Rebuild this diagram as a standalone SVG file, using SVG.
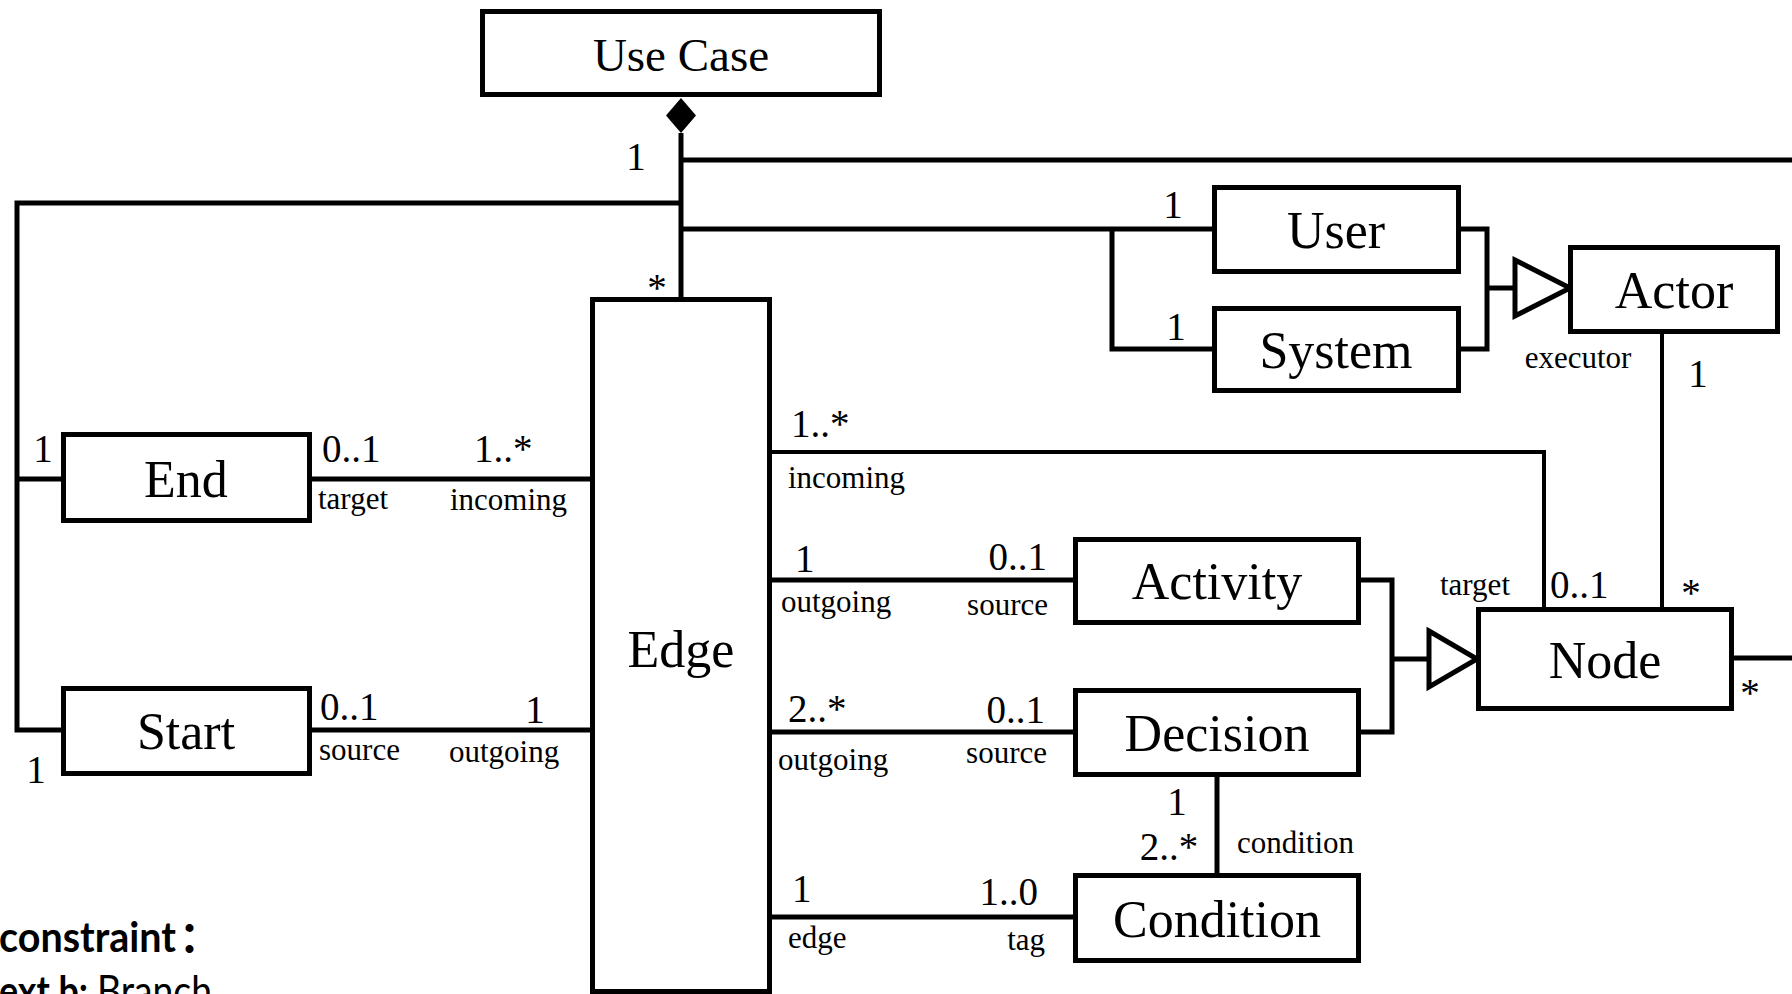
<svg xmlns="http://www.w3.org/2000/svg" width="1792" height="994" viewBox="0 0 1792 994">
  <style>
    .box { fill: #ffffff; stroke: #000000; stroke-width: 5; }
    .line { fill: none; stroke: #000000; stroke-width: 5; stroke-linejoin: miter; stroke-linecap: butt; }
    .thin { stroke-width: 4; }
    .gen { fill: #ffffff; stroke: #000000; stroke-width: 5; stroke-linejoin: miter; }
    .name { font-family: "Liberation Serif", "Times New Roman", serif; font-size: 52px; text-anchor: middle; fill: #000; }
    .mult { font-family: "Liberation Serif", "Times New Roman", serif; font-size: 39px; fill: #000; }
    .role { font-family: "Liberation Serif", "Times New Roman", serif; font-size: 31px; fill: #000; }
    .mid { text-anchor: middle; }
    .end { text-anchor: end; }
    .note { font-family: Lato, "Noto Sans", "Noto Sans CJK SC", sans-serif; font-size: 42px; fill: #000; }
  </style>

  <rect width="1792" height="994" fill="#ffffff"/>

  <!-- associations, compositions and generalizations -->
  <g id="connectors">
    <!-- composition: Use Case owns its parts -->
    <polygon points="681,98 696,115.5 681,133 666,115.5" fill="#000000"/>
    <polyline class="line" points="681,133 681,299"/>
    <polyline class="line" points="681,160 1792,160"/>
    <polyline class="line" points="681,203 17,203 17,730 63,730"/>
    <polyline class="line" points="17,479 63,479"/>
    <polyline class="line" points="681,229 1214,229"/>
    <polyline class="line" points="1112,229 1112,349 1214,349"/>

    <!-- User / System generalize to Actor -->
    <polyline class="line" points="1460,229 1487,229 1487,349 1460,349"/>
    <polyline class="line" points="1487,288 1515,288"/>
    <polygon class="gen" points="1515,260 1570,288 1515,316"/>

    <!-- Actor executes Node -->
    <polyline class="line thin" points="1662,333 1662,609"/>

    <!-- Edge associations -->
    <polyline class="line thin" points="771,452 1544,452 1544,609"/>
    <polyline class="line" points="771,580 1075,580"/>
    <polyline class="line" points="771,732 1075,732"/>
    <polyline class="line" points="771,917 1075,917"/>
    <polyline class="line" points="310,479 592,479"/>
    <polyline class="line" points="310,730 592,730"/>

    <!-- Decision has conditions -->
    <polyline class="line" points="1217,776 1217,875"/>

    <!-- Activity / Decision generalize to Node -->
    <polyline class="line" points="1359,580 1392,580 1392,732 1359,732"/>
    <polyline class="line" points="1392,659 1429,659"/>
    <polygon class="gen" points="1429,631 1477,659 1429,687"/>

    <!-- Node continues to the right -->
    <polyline class="line" points="1733,658 1792,658"/>
  </g>

  <!-- classes -->
  <g id="use-case">
    <rect class="box" x="482.5" y="11.5" width="397" height="83"/>
    <text class="name" x="681" y="71" style="font-size:47px">Use Case</text>
  </g>
  <g id="user">
    <rect class="box" x="1214.5" y="187.5" width="244" height="84"/>
    <text class="name" x="1336" y="248">User</text>
  </g>
  <g id="system">
    <rect class="box" x="1214.5" y="308.5" width="244" height="82"/>
    <text class="name" x="1336" y="368">System</text>
  </g>
  <g id="actor">
    <rect class="box" x="1570.5" y="247.5" width="207" height="84"/>
    <text class="name" x="1674" y="308">Actor</text>
  </g>
  <g id="edge">
    <rect class="box" x="592.5" y="299.5" width="177" height="692"/>
    <text class="name" x="681" y="667">Edge</text>
  </g>
  <g id="end">
    <rect class="box" x="63.5" y="434.5" width="246" height="86"/>
    <text class="name" x="186" y="497">End</text>
  </g>
  <g id="start">
    <rect class="box" x="63.5" y="688.5" width="246" height="85"/>
    <text class="name" x="186" y="749">Start</text>
  </g>
  <g id="activity">
    <rect class="box" x="1075.5" y="539.5" width="283" height="83"/>
    <text class="name" x="1217" y="599">Activity</text>
  </g>
  <g id="decision">
    <rect class="box" x="1075.5" y="690.5" width="283" height="84"/>
    <text class="name" x="1217" y="751">Decision</text>
  </g>
  <g id="condition">
    <rect class="box" x="1075.5" y="875.5" width="283" height="85"/>
    <text class="name" x="1217" y="937">Condition</text>
  </g>
  <g id="node">
    <rect class="box" x="1478.5" y="609.5" width="253" height="99"/>
    <text class="name" x="1605" y="678">Node</text>
  </g>

  <!-- multiplicities and role names -->
  <g id="labels">
    <text class="mult mid" x="636" y="170">1</text>
    <text class="mult mid" x="657" y="301">*</text>
    <text class="mult mid" x="1173" y="218">1</text>
    <text class="mult mid" x="1176" y="340">1</text>
    <text class="role mid" x="1578" y="368">executor</text>
    <text class="mult mid" x="1698" y="387">1</text>

    <text class="mult" x="791" y="437">1..*</text>
    <text class="role" x="788" y="488">incoming</text>
    <text class="mult" x="795" y="572">1</text>
    <text class="role" x="781" y="612">outgoing</text>
    <text class="mult end" x="1047" y="570">0..1</text>
    <text class="role end" x="1048" y="615">source</text>

    <text class="mult" x="788" y="722">2..*</text>
    <text class="role" x="778" y="770">outgoing</text>
    <text class="mult end" x="1045" y="723">0..1</text>
    <text class="role end" x="1047" y="763">source</text>

    <text class="mult mid" x="1177" y="815">1</text>
    <text class="mult mid" x="1169" y="860">2..*</text>
    <text class="role" x="1237" y="853">condition</text>

    <text class="mult" x="792" y="902">1</text>
    <text class="role" x="788" y="948">edge</text>
    <text class="mult end" x="1038" y="905">1..0</text>
    <text class="role end" x="1045" y="950">tag</text>

    <text class="role end" x="1510" y="595">target</text>
    <text class="mult" x="1550" y="598">0..1</text>
    <text class="mult mid" x="1691" y="606">*</text>
    <text class="mult mid" x="1750" y="706">*</text>

    <text class="mult mid" x="43" y="462">1</text>
    <text class="mult" x="322" y="462">0..1</text>
    <text class="mult" x="474" y="462">1..*</text>
    <text class="role" x="318" y="509">target</text>
    <text class="role" x="450" y="510">incoming</text>

    <text class="mult mid" x="36" y="783">1</text>
    <text class="mult" x="320" y="720">0..1</text>
    <text class="mult mid" x="535" y="723">1</text>
    <text class="role" x="319" y="760">source</text>
    <text class="role" x="449" y="762">outgoing</text>
  </g>

  <!-- constraint note -->
  <g id="constraint">
    <text class="note" x="-1" y="952" font-weight="bold"><tspan textLength="177" lengthAdjust="spacingAndGlyphs">constraint</tspan><tspan x="179">：</tspan></text>
    <text class="note" x="-1" y="1006"><tspan font-weight="bold" textLength="89" lengthAdjust="spacingAndGlyphs">ext b:</tspan><tspan x="97" textLength="115" lengthAdjust="spacingAndGlyphs">Branch</tspan></text>
  </g>
</svg>
